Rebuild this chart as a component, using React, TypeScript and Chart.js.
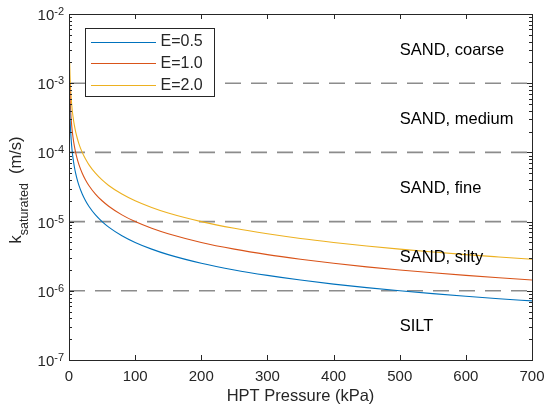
import { useEffect, useRef } from "react";
import { Chart, registerables } from "chart.js";

Chart.register(...registerables);

// ---- data ----
const pressure = [1, 1.5, 2, 3, 4, 5, 6, 8, 10, 12, 15, 20, 25, 30, 40, 50, 60, 80, 100, 125, 150, 200, 250, 300, 350, 400, 450, 500, 550, 600, 650, 700];
const kE05 = [5.0e-4, 3.33e-4, 2.5e-4, 1.67e-4, 1.25e-4, 1.0e-4, 8.33e-5, 6.25e-5, 5.0e-5, 4.17e-5, 3.33e-5, 2.5e-5, 2.0e-5, 1.67e-5, 1.25e-5, 1.0e-5, 8.33e-6, 6.25e-6, 5.0e-6, 4.0e-6, 3.33e-6, 2.5e-6, 2.0e-6, 1.67e-6, 1.43e-6, 1.25e-6, 1.11e-6, 1.0e-6, 9.09e-7, 8.33e-7, 7.69e-7, 7.14e-7];
const kE10 = [1.0e-3, 6.67e-4, 5.0e-4, 3.33e-4, 2.5e-4, 2.0e-4, 1.67e-4, 1.25e-4, 1.0e-4, 8.33e-5, 6.67e-5, 5.0e-5, 4.0e-5, 3.33e-5, 2.5e-5, 2.0e-5, 1.67e-5, 1.25e-5, 1.0e-5, 8.0e-6, 6.67e-6, 5.0e-6, 4.0e-6, 3.33e-6, 2.86e-6, 2.5e-6, 2.22e-6, 2.0e-6, 1.82e-6, 1.67e-6, 1.54e-6, 1.43e-6];
const kE20 = [2.0e-3, 1.33e-3, 1.0e-3, 6.67e-4, 5.0e-4, 4.0e-4, 3.33e-4, 2.5e-4, 2.0e-4, 1.67e-4, 1.33e-4, 1.0e-4, 8.0e-5, 6.67e-5, 5.0e-5, 4.0e-5, 3.33e-5, 2.5e-5, 2.0e-5, 1.6e-5, 1.33e-5, 1.0e-5, 8.0e-6, 6.67e-6, 5.71e-6, 5.0e-6, 4.44e-6, 4.0e-6, 3.64e-6, 3.33e-6, 3.08e-6, 2.86e-6];
const seriesLabels = ["E=0.5", "E=1.0", "E=2.0"];
const seriesColors = ["#0072BD", "#D95319", "#EDB120"];
const boundaries = [1e-3, 1e-4, 1e-5, 1e-6];
const zoneLabels = ["SAND, coarse", "SAND, medium", "SAND, fine", "SAND, silty", "SILT"];
const zoneCenters = [3.16e-3, 3.16e-4, 3.16e-5, 3.16e-6, 3.16e-7];
const zoneLabelX = 500;
const xTicks = [0, 100, 200, 300, 400, 500, 600, 700];
const yExponents = [-7, -6, -5, -4, -3, -2];
const xTitle = "HPT Pressure (kPa)";
const yTitleMain = "k";
const yTitleSub = "saturated";
const yTitleUnit = "(m/s)";

const FONT = "'Liberation Sans', Arial, Helvetica, sans-serif";
const AXC = "#262626";

const overlay = {
  id: "overlay",
  afterDatasetsDraw(chart: any) {
    const ctx = chart.ctx as CanvasRenderingContext2D;
    const xs = chart.scales.x;
    const ys = chart.scales.y;
    const { left, right, top, bottom } = chart.chartArea;
    ctx.save();

    // zone labels
    ctx.fillStyle = "#000";
    ctx.font = `16.5px ${FONT}`;
    ctx.textAlign = "left";
    ctx.textBaseline = "middle";
    zoneLabels.forEach((t, i) => {
      ctx.fillText(t, xs.getPixelForValue(zoneLabelX), ys.getPixelForValue(zoneCenters[i]) + 1.5);
    });

    // axes box
    ctx.strokeStyle = AXC;
    ctx.lineWidth = 1;
    ctx.strokeRect(Math.round(left) + 0.5, Math.round(top) + 0.5, Math.round(right - left), Math.round(bottom - top));

    // x ticks
    ctx.beginPath();
    xTicks.forEach((v) => {
      const px = Math.round(xs.getPixelForValue(v)) + 0.5;
      ctx.moveTo(px, bottom);
      ctx.lineTo(px, bottom - 5);
      ctx.moveTo(px, top);
      ctx.lineTo(px, top + 5);
    });
    // y ticks (major + minor)
    yExponents.forEach((e) => {
      const py = Math.round(ys.getPixelForValue(Math.pow(10, e))) + 0.5;
      ctx.moveTo(left, py);
      ctx.lineTo(left + 5, py);
      ctx.moveTo(right, py);
      ctx.lineTo(right - 5, py);
      if (e < -2) {
        for (let m = 2; m <= 9; m++) {
          const pm = Math.round(ys.getPixelForValue(m * Math.pow(10, e))) + 0.5;
          ctx.moveTo(left, pm);
          ctx.lineTo(left + 3, pm);
          ctx.moveTo(right, pm);
          ctx.lineTo(right - 3, pm);
        }
      }
    });
    ctx.stroke();

    // x tick labels
    ctx.fillStyle = AXC;
    ctx.font = `15px ${FONT}`;
    ctx.textAlign = "center";
    ctx.textBaseline = "middle";
    xTicks.forEach((v) => ctx.fillText(String(v), xs.getPixelForValue(v), bottom + 17));

    // y tick labels 10^e
    yExponents.forEach((e) => {
      const py = ys.getPixelForValue(Math.pow(10, e));
      const sup = String(e).replace("-", "-");
      ctx.font = `11px ${FONT}`;
      const ws = ctx.measureText(sup).width;
      ctx.textAlign = "right";
      ctx.textBaseline = "alphabetic";
      const xr = left - 5;
      ctx.fillText(sup, xr, py + 1);
      ctx.font = `15px ${FONT}`;
      ctx.fillText("10", xr - ws, py + 6);
    });

    // x title
    ctx.font = `16.5px ${FONT}`;
    ctx.textAlign = "center";
    ctx.textBaseline = "middle";
    ctx.fillText(xTitle, (left + right) / 2, bottom + 36);

    // y title (rotated)
    ctx.save();
    ctx.font = `16.5px ${FONT}`;
    const wk = ctx.measureText(yTitleMain).width;
    ctx.font = `12.5px ${FONT}`;
    const wsub = ctx.measureText(yTitleSub).width;
    ctx.font = `16.5px ${FONT}`;
    const wu = ctx.measureText(yTitleUnit).width;
    const gap = 9;
    const total = wk + wsub + gap + wu;
    const cy = 190;
    ctx.translate(20.5, cy + total / 2);
    ctx.rotate(-Math.PI / 2);
    ctx.textAlign = "left";
    ctx.textBaseline = "alphabetic";
    ctx.fillText(yTitleMain, 0, 0);
    ctx.font = `12.5px ${FONT}`;
    ctx.fillText(yTitleSub, wk, 7);
    ctx.font = `16.5px ${FONT}`;
    ctx.fillText(yTitleUnit, wk + wsub + gap, 0);
    ctx.restore();

    // legend
    const lx = 85, ly = 28, lw = 129, lh = 68;
    ctx.fillStyle = "#fff";
    ctx.fillRect(lx, ly, lw, lh);
    ctx.strokeStyle = AXC;
    ctx.lineWidth = 1;
    ctx.strokeRect(lx + 0.5, ly + 0.5, lw, lh);
    ctx.font = `16px ${FONT}`;
    ctx.textAlign = "left";
    ctx.textBaseline = "middle";
    seriesLabels.forEach((lab, i) => {
      const yy = 41.5 + i * 21.7;
      ctx.strokeStyle = seriesColors[i];
      ctx.lineWidth = 1;
      ctx.beginPath();
      ctx.moveTo(91, Math.round(yy) + 0.5);
      ctx.lineTo(156, Math.round(yy) + 0.5);
      ctx.stroke();
      ctx.fillStyle = AXC;
      ctx.fillText(lab, 160.5, yy + 0.5);
    });

    ctx.restore();
  },
};

export default function App() {
  const ref = useRef<HTMLCanvasElement | null>(null);

  useEffect(() => {
    document.body.style.margin = "0";
    if (!ref.current) return;
    const series = [kE05, kE10, kE20];
    const datasets: any[] = series.map((arr, i) => ({
      label: seriesLabels[i],
      data: pressure.map((p, j) => ({ x: p, y: arr[j] })),
      borderColor: seriesColors[i],
      backgroundColor: seriesColors[i],
      borderWidth: 1.1,
      pointRadius: 0,
      cubicInterpolationMode: "monotone",
      order: 0,
    }));
    boundaries.forEach((b) => {
      datasets.push({
        label: "boundary",
        data: [
          { x: 0, y: b },
          { x: 700, y: b },
        ],
        borderColor: "#8c8c8c",
        borderWidth: 1.6,
        borderDash: [16, 10],
        pointRadius: 0,
        order: 1,
      });
    });

    const chart = new Chart(ref.current, {
      type: "line",
      data: { datasets },
      options: {
        animation: false,
        responsive: false,
        maintainAspectRatio: false,
        layout: { padding: { top: 14, right: 13, left: 0, bottom: 0 } },
        plugins: { legend: { display: false }, tooltip: { enabled: false } },
        scales: {
          x: {
            type: "linear",
            min: 0,
            max: 700,
            grid: { display: false },
            border: { display: false },
            ticks: { display: false },
            afterFit: (s: any) => {
              s.height = 49;
            },
          },
          y: {
            type: "logarithmic",
            min: 1e-7,
            max: 1e-2,
            grid: { display: false },
            border: { display: false },
            ticks: { display: false },
            afterFit: (s: any) => {
              s.width = 69;
            },
          },
        },
      },
      plugins: [overlay],
    });
    return () => chart.destroy();
  }, []);

  return (
    <div style={{ width: 545, height: 409 }}>
      <canvas ref={ref} width={545} height={409} />
    </div>
  );
}
